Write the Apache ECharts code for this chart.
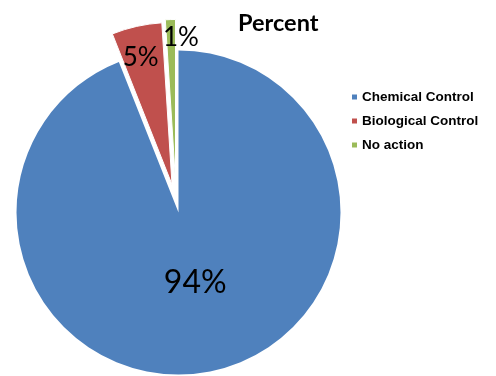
<!DOCTYPE html>
<html>
<head>
<meta charset="utf-8">
<script src="https://cdn.jsdelivr.net/npm/echarts@6/dist/echarts.min.js"></script>
<style>
  html, body { margin: 0; padding: 0; background: #fff; }
  #chart { width: 496px; height: 376px; }
</style>
</head>
<body>
<div id="chart"></div>
<script>
// Share of responses by pest management approach
const categories = ['Chemical Control', 'Biological Control', 'No action'];
const values = [94, 5, 1];
const colors = ['#4F81BD', '#C0504D', '#9BBB59'];

// Pie geometry: base centre and how far each slice is pulled out
const baseCenter = [178.5, 212.5];
const radius = 162;
const sliceShift = [[0, 0], [-6.5, -28], [-3, -31]];
const labelSize = [32, 26, 26];
const labelOffset = [[1, -12], [-13, -45], [8, -60]];

// One pie series per slice so each can be pulled out by its own amount;
// the other slices in each series are left transparent.
function sliceSeries(i) {
  return {
    type: 'pie',
    center: [baseCenter[0] + sliceShift[i][0], baseCenter[1] + sliceShift[i][1]],
    radius: radius,
    startAngle: 90,
    clockwise: true,
    avoidLabelOverlap: false,
    emphasis: { disabled: true },
    labelLine: { show: false },
    z: i === 0 ? 1 : 2,
    data: categories.map(function (name, j) {
      const visible = j === i;
      return {
        name: name,
        value: values[j],
        itemStyle: {
          color: visible ? colors[j] : 'rgba(0,0,0,0)',
          borderColor: visible && j > 0 ? '#fff' : 'rgba(0,0,0,0)',
          borderWidth: visible && j > 0 ? 1 : 0
        },
        label: {
          show: visible,
          position: 'inside',
          rotate: 0,
          formatter: '{c}%',
          color: '#000',
          textBorderWidth: 0,
          fontFamily: 'Lato',
          fontSize: labelSize[j],
          offset: labelOffset[j]
        }
      };
    })
  };
}

const chart = echarts.init(document.getElementById('chart'), null, { renderer: 'canvas' });
chart.setOption({
  animation: false,
  backgroundColor: '#fff',
  title: {
    text: 'Percent',
    left: 233,
    top: 6,
    textStyle: { fontFamily: 'Lato', fontWeight: 'bold', fontSize: 23.5, color: '#000' }
  },
  legend: {
    orient: 'vertical',
    left: 347,
    top: 85,
    itemWidth: 5,
    itemHeight: 5,
    itemGap: 10,
    icon: 'rect',
    selectedMode: false,
    textStyle: { fontFamily: 'Liberation Sans', fontWeight: 'bold', fontSize: 13.5, color: '#000' },
    data: categories.map(function (name, j) {
      return { name: name, itemStyle: { color: colors[j] } };
    })
  },
  series: categories.map(function (_, i) { return sliceSeries(i); })
});
</script>
</body>
</html>
